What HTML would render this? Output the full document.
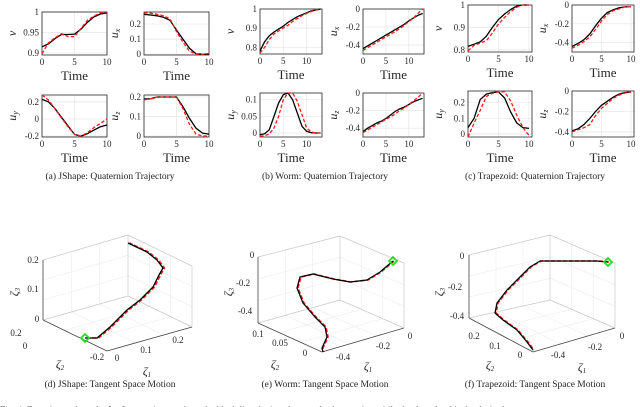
<!DOCTYPE html>
<html><head><meta charset="utf-8">
<style>
html,body{margin:0;padding:0;background:#fff;width:640px;height:407px;overflow:hidden}
svg{display:block;font-family:"Liberation Serif",serif}
svg text{font-family:"Liberation Serif",serif}
.tk{font-size:9px;fill:#262626;font-family:"Liberation Serif",serif}
.tl{font-size:13px;fill:#262626;font-family:"Liberation Serif",serif;font-weight:normal}
.cap{font-size:9.5px;fill:#222;font-family:"Liberation Serif",serif}
</style></head>
<body>
<svg id="fig" width="640" height="407" viewBox="0 0 640 407" xmlns="http://www.w3.org/2000/svg">
<text class="cap" x="110" y="179" text-anchor="middle">(a)  JShape: Quaternion Trajectory</text>
<text class="cap" x="325" y="179" text-anchor="middle">(b)  Worm: Quaternion Trajectory</text>
<text class="cap" x="535" y="179" text-anchor="middle">(c)  Trapezoid: Quaternion Trajectory</text>
<text class="cap" x="110" y="387" text-anchor="middle">(d)  JShape: Tangent Space Motion</text>
<text class="cap" x="325" y="387" text-anchor="middle">(e)  Worm: Tangent Space Motion</text>
<text class="cap" x="535" y="387" text-anchor="middle">(f)  Trapezoid: Tangent Space Motion</text>
<text class="cap" x="0" y="413">Fig. 4.   Experimental results for free motion ... where the black line depicts the actual robot motion while the dotted red is the desired</text>
</svg>
<script>
// ---- data ----
const tA = [0,1,2,3,4,5,6,7,8,9,10];
const tB = [0,1,2,3,4,5,6,7,8,9,10,11,12,13];
const tC = [0,1,2,3,4,5,6,7,8,9,10];
const aVBlack = [.915,.922,.935,.945,.945,.946,.958,.975,.988,.995,.998];
const aVRed   = [.898,.925,.937,.947,.94,.94,.96,.98,.99,.998,1.0];
const aUxBlack = [.265,.26,.255,.245,.225,.16,.10,.04,.003,0,0];
const aUxRed   = [.275,.272,.265,.255,.235,.15,.08,.02,0,0,.005];
const aUyBlack = [.23,.2,.12,.02,-.08,-.18,-.2,-.17,-.13,-.09,-.07];
const aUyRed   = [.28,.22,.12,.01,-.09,-.18,-.2,-.16,-.1,-.05,0];
const aUzBlack = [.19,.19,.2,.2,.2,.2,.15,.09,.04,.015,.01];
const aUzRed   = [.185,.19,.2,.2,.2,.2,.14,.06,.01,0,0];
const bVBlack = [.78,.83,.86,.88,.895,.91,.93,.945,.96,.97,.98,.99,.995,1];
const bVRed   = [.77,.8,.84,.87,.885,.9,.915,.935,.95,.965,.977,.987,.995,1];
const bUxBlack = [-.44,-.41,-.38,-.35,-.32,-.29,-.26,-.23,-.2,-.17,-.13,-.1,-.07,-.05];
const bUxRed   = [-.46,-.43,-.4,-.37,-.34,-.31,-.28,-.25,-.22,-.18,-.14,-.1,-.05,0];
const bUyBlack = [-.005,-.002,.01,.05,.09,.115,.12,.1,.06,.02,.005,.001,0,0];
const bUyRed   = [-.01,-.008,-.003,.015,.05,.1,.12,.12,.095,.055,.015,.003,0,0];
const bUzBlack = [-.44,-.4,-.37,-.34,-.32,-.29,-.25,-.21,-.18,-.16,-.13,-.1,-.08,-.06];
const bUzRed   = [-.45,-.42,-.39,-.36,-.33,-.3,-.27,-.24,-.2,-.17,-.13,-.09,-.05,0];
const cVBlack = [.815,.825,.835,.86,.9,.935,.96,.98,.995,1,1];
const cVRed   = [.795,.82,.83,.84,.875,.915,.945,.97,.99,1,1];
const cUxBlack = [-.44,-.41,-.37,-.31,-.22,-.14,-.08,-.05,-.03,-.02,-.02];
const cUxRed   = [-.46,-.43,-.39,-.34,-.26,-.17,-.1,-.06,-.04,-.02,-.02];
const cUyBlack = [.04,.1,.22,.255,.265,.27,.23,.14,.07,.04,.035];
const cUyRed   = [-.02,.07,.15,.24,.26,.27,.27,.21,.12,.04,-.01];
const cUzBlack = [-.39,-.37,-.33,-.27,-.2,-.14,-.1,-.06,-.03,-.015,-.01];
const cUzRed   = [-.4,-.38,-.36,-.33,-.24,-.17,-.12,-.07,-.04,-.02,-.01];
const xTicks = [0,5,10];
const yTicksAV = [0.9,0.95,1];
const yTicksA1 = [0,0.1,0.2];
const yTicksAUy = [-0.2,0,0.2];
const yTicksV = [0.8,0.9,1];
const yTicksNeg = [-0.4,-0.2,0];
const yTicksBUy = [0,0.05,0.1];

const NS='http://www.w3.org/2000/svg';
const svg=document.getElementById('fig');
function mk(tag,attrs,parent){const e=document.createElementNS(NS,tag);for(const k in attrs)e.setAttribute(k,attrs[k]);(parent||svg).appendChild(e);return e;}
const SERIF='Liberation Serif, serif';

function plot(name,box,xr,yr,xt,yt,ylab,t,blk,red){
  const [x0,y0,x1,y1]=box;
  const g=mk('g',{'font-family':SERIF});
  
  
  const sx=v=>x0+(v-xr[0])/(xr[1]-xr[0])*(x1-x0);
  const sy=v=>y1-(v-yr[0])/(yr[1]-yr[0])*(y1-y0);
  xt.forEach(v=>{const l=mk('line',{x1:sx(v),x2:sx(v),y1:y0,y2:y1,stroke:'#e6e6e6','stroke-width':0.7},g);
    
    const tx=mk('text',{x:sx(v),y:y1+10,'text-anchor':'middle',class:'tk','font-family':SERIF},g);tx.textContent=String(v);
    });
  yt.forEach(v=>{const l=mk('line',{x1:x0,x2:x1,y1:sy(v),y2:sy(v),stroke:'#e6e6e6','stroke-width':0.7},g);
    
    const tx=mk('text',{x:x0-3,y:sy(v)+3,'text-anchor':'end',class:'tk','font-family':SERIF},g);tx.textContent=String(v);
    });
  const r=mk('rect',{x:x0,y:y0,width:x1-x0,height:y1-y0,fill:'none',stroke:'#262626','stroke-width':0.8},g);
  
  const xl=mk('text',{x:(x0+x1)/2,y:y1+25,'text-anchor':'middle',class:'tl','font-family':SERIF},g);xl.textContent='Time';
  
  const yx=x0-26, yy=(y0+y1)/2;
  const yl=mk('text',{x:yx,y:yy,'text-anchor':'middle',transform:`rotate(-90 ${yx} ${yy})`,'font-size':'12','font-style':'italic',fill:'#262626','font-family':SERIF},g);
  
  yl.textContent=ylab[0];
  if(ylab[1]){const s=mk('tspan',{'font-size':'8',dy:'2'},yl);s.textContent=ylab[1];}
  const pts=a=>a.map((v,i)=>sx(t[i]).toFixed(1)+','+sy(v).toFixed(1)).join(' ');
  const pb=mk('polyline',{points:pts(blk),fill:'none',stroke:'#000','stroke-width':1.3,'stroke-linejoin':'round'},g);
  
  const pr=mk('polyline',{points:pts(red),fill:'none',stroke:'#ff1a1a','stroke-width':1.3,'stroke-dasharray':'3.5 2'},g);
  
}
plot('plot-a-v',[42,12,107,55],[0,10],[0.895,1],xTicks,yTicksAV,['v'],tA,aVBlack,aVRed);
plot('plot-a-ux',[144,12,209,55],[0,10],[-0.005,0.28],xTicks,yTicksA1,['u','x'],tA,aUxBlack,aUxRed);
plot('plot-a-uy',[42,95,107,137],[0,10],[-0.21,0.28],xTicks,yTicksAUy,['u','y'],tA,aUyBlack,aUyRed);
plot('plot-a-uz',[144,95,209,137],[0,10],[-0.005,0.21],xTicks,yTicksA1,['u','z'],tA,aUzBlack,aUzRed);
plot('plot-b-v',[260,9,322,54],[0,13.3],[0.765,1],xTicks,yTicksV,['v'],tB,bVBlack,bVRed);
plot('plot-b-ux',[363,9,424,54],[0,13.3],[-0.5,0],xTicks,yTicksNeg,['u','x'],tB,bUxBlack,bUxRed);
plot('plot-b-uy',[260,93,322,137],[0,13.3],[-0.012,0.12],xTicks,yTicksBUy,['u','y'],tB,bUyBlack,bUyRed);
plot('plot-b-uz',[363,93,424,137],[0,13.3],[-0.5,0],xTicks,yTicksNeg,['u','z'],tB,bUzBlack,bUzRed);
plot('plot-c-v',[468,5,532,52],[0,10.5],[0.79,1],xTicks,yTicksV,['v'],tC,cVBlack,cVRed);
plot('plot-c-ux',[572,5,634,52],[0,10.5],[-0.5,0],xTicks,yTicksNeg,['u','x'],tC,cUxBlack,cUxRed);
plot('plot-c-uy',[468,91,532,137],[0,10.5],[-0.02,0.275],xTicks,yTicksA1,['u','y'],tC,cUyBlack,cUyRed);
plot('plot-c-uz',[572,91,634,137],[0,10.5],[-0.45,0],xTicks,yTicksNeg,['u','z'],tC,cUzBlack,cUzRed);

// ---- 3D panels (screen-space traces) ----
const dCurveX=[85,97,110,127,140,153,159,163,157,147,128];
const dCurveY=[338,338,327,310,300,287,275,268,260,252,243];
const eCurveX=[393,380,367,350,333,313,300,297,303,315,325,327,322,323];
const eCurveY=[261,272,280,282,279,274,277,288,303,317,327,337,348,352];
const fCurveX=[608,597,540,530,520,507,497,495,503,517,527,533];
const fCurveY=[262,261,261,267,277,290,303,313,320,330,342,350];

function box3d(name,c,ticks,labels,cx,cy,redOff){
  const g=mk('g',{'font-family':SERIF});
  
  
  const {A,B,C,D,E,F,G}=c;
  const seg=(p,q,col,w)=>mk('line',{x1:p[0],y1:p[1],x2:q[0],y2:q[1],stroke:col,'stroke-width':w},g);
  for(let i=1;i<3;i++){const f=i/3;
    const lerp=(p,q)=>[p[0]+(q[0]-p[0])*f,p[1]+(q[1]-p[1])*f];
    seg(lerp(A,D),lerp(B,E),'#ececec',0.6);seg(lerp(B,E),lerp(C,F),'#ececec',0.6);
    seg(lerp(A,B),lerp(D,E),'#ececec',0.6);seg(lerp(B,C),lerp(E,F),'#ececec',0.6);
    seg(lerp(D,E),lerp(G,F),'#ececec',0.6);seg(lerp(E,F),lerp(D,G),'#ececec',0.6);}
  [[A,B],[B,C],[B,E],[E,F],[D,E]].forEach(p=>seg(p[0],p[1],'#c8c8c8',0.7));
  [[A,D],[D,G],[G,F]].forEach(p=>seg(p[0],p[1],'#444',0.8));
  seg(C,F,'#c8c8c8',0.7);
  ticks.forEach(tk=>{const t=mk('text',{x:tk[1],y:tk[2],class:'tk','text-anchor':'middle','font-size':'8.5','font-family':SERIF},g);t.textContent=tk[0];
    });
  labels.forEach(lb=>{const t=mk('text',{x:lb[2],y:lb[3],'font-size':'12','font-style':'italic',fill:'#262626','text-anchor':'middle','font-family':SERIF,transform:lb[4]?`rotate(-90 ${lb[2]} ${lb[3]})`:''},g);
    t.textContent=lb[0];const s=mk('tspan',{'font-size':'7',dy:'2'},t);s.textContent=lb[1];
    });
  const pts=cx.map((x,i)=>x+','+cy[i]).join(' ');
  const pr=mk('polyline',{points:cx.map((x,i)=>(x+redOff)+','+cy[i]).join(' '),fill:'none',stroke:'#ff1a1a','stroke-width':1.6,'stroke-dasharray':'4 2'},g);
  
  const pb=mk('polyline',{points:pts,fill:'none',stroke:'#000','stroke-width':1.3,'stroke-linejoin':'round'},g);
  
  const x=cx[0],y=cy[0];
  const dm=mk('polygon',{points:`${x},${y-4} ${x+4},${y} ${x},${y+4} ${x-4},${y}`,fill:'none',stroke:'#22dd22','stroke-width':1.8},g);
  
}
box3d('tangent-plot-d',{A:[43,260],B:[128,235],C:[192,266],D:[43,320],E:[128,296],F:[192,327],G:[107,351]},
  [['0.2',33,263],['0.1',33,292],['0',37,322],['0.2',16,336],['0',25,349],['-0.2',97,360],['0',117,361],['0.1',146,353],['0.2',178,343]],
  [['ζ','3',18,292,true],['ζ','2',60,368,false],['ζ','1',147,375,false]],dCurveX,dCurveY,1.5);
box3d('tangent-plot-e',{A:[258,257],B:[340,236],C:[404,263],D:[258,323],E:[340,300],F:[404,328],G:[322,352]},
  [['0',252,258],['-0.2',243,286],['-0.4',245,314],['0.1',258,337],['0.05',280,346],['0',305,356],['-0.4',343,360],['-0.2',383,349],['0',410,339]],
  [['ζ','3',232,292,true],['ζ','2',275,368,false],['ζ','1',368,370,false]],eCurveX,eCurveY,1);
box3d('tangent-plot-f',{A:[469,255],B:[550,235],C:[615,263],D:[469,318],E:[550,300],F:[615,328],G:[533,352]},
  [['0',462,259],['-0.2',455,290],['-0.4',457,319],['0.2',474,339],['0.1',495,349],['0',520,358],['-0.4',558,358],['-0.2',595,350],['0',622,339]],
  [['ζ','3',443,292,true],['ζ','2',490,369,false],['ζ','1',582,371,false]],fCurveX,fCurveY,1);
</script>
</body></html>
